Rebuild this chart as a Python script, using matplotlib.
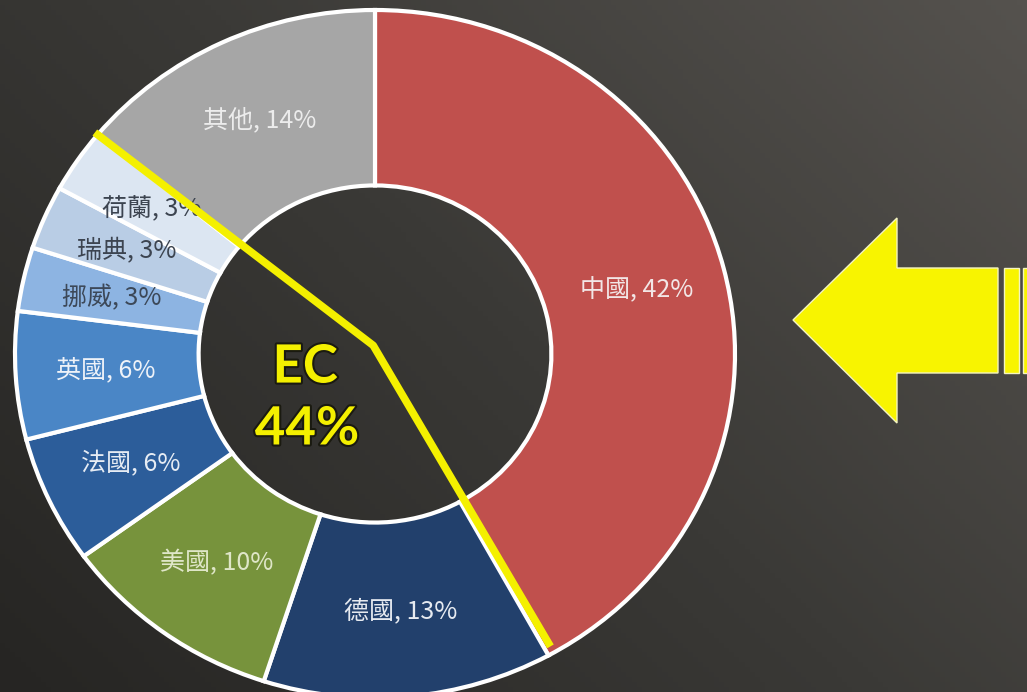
import numpy as np
import matplotlib.pyplot as plt
from matplotlib.patches import Polygon, Rectangle
from matplotlib.colors import LinearSegmentedColormap
import matplotlib.patheffects as pe

plt.rcParams['font.family'] = ['Noto Sans CJK TC', 'DejaVu Sans']

# data, clockwise from 12 o'clock
countries = ['中國', '德國', '美國', '法國', '英國', '挪威', '瑞典', '荷蘭', '其他']
shares = [42, 13, 10, 6, 6, 3, 3, 3, 14]
colors = ['#c0504d', '#22406c', '#77933c', '#2c5d9a', '#4a86c6',
          '#8db4e2', '#b9cde5', '#dce6f2', '#a6a6a6']
label_colors = ['#f2e6e6', '#e6eaf0', '#dfe6c8', '#e6ecf4', '#eef2f8',
                '#3c4858', '#3c4450', '#3c4450', '#ececec']
ec_lines = ['EC', '44%']

W, H = 1027, 692
fig = plt.figure(figsize=(W / 100, H / 100), dpi=100)

# dark background, a bit lighter to the upper right
bg = fig.add_axes([0, 0, 1, 1])
gx, gy = np.meshgrid(np.linspace(0, 1, 200), np.linspace(1, 0, 140))
bg_cmap = LinearSegmentedColormap.from_list('bg', ['#262523', '#3a3936', '#55524e'])
bg.imshow(0.6 * gx + 0.4 * gy, cmap=bg_cmap, aspect='auto', extent=[0, 1, 0, 1])
bg.axis('off')

# donut (image is a little stretched horizontally)
ax = fig.add_axes([0, 0, 1, 1])
ax.set_facecolor('none')
wedges, _ = ax.pie(shares, colors=colors, startangle=90, counterclock=False, radius=1,
                   wedgeprops=dict(width=0.51, edgecolor='white', linewidth=3))
ax.set_aspect('auto')
ax.set_xlim(-375 / 360, (W - 375) / 360)
ax.set_ylim((354 - H) / 344, 354 / 344)
ax.axis('off')

cum = np.cumsum(shares)
mids = (cum - np.array(shares) / 2) / 100 * 2 * np.pi
for name, s, a, c in zip(countries, shares, mids, label_colors):
    ax.text(0.75 * np.sin(a), 0.75 * np.cos(a), f'{name}, {s}%', color=c,
            fontsize=18, fontweight='medium', ha='center', va='center')

# yellow EC separator
a_top = cum[7] / 100 * 2 * np.pi
a_bot = cum[0] / 100 * 2 * np.pi
lx = [1.01 * np.sin(a_top), -0.005, 0.97 * np.sin(a_bot) + 0.02]
ly = [1.01 * np.cos(a_top), 0.025, 0.97 * np.cos(a_bot)]
ax.plot(lx, ly, color='#f4f000', linewidth=5.5, solid_capstyle='butt', zorder=5)

shadow = [pe.withStroke(linewidth=3, foreground='#1a1a10')]
ax.text(-0.194, -0.038, ec_lines[0], color='#f4f000', fontsize=38, fontweight='bold',
        family='Lato', ha='center', va='center', path_effects=shadow, zorder=6)
ax.text(-0.189, -0.218, ec_lines[1], color='#f4f000', fontsize=38, fontweight='bold',
        family='Lato', ha='center', va='center', path_effects=shadow, zorder=6)

# arrow on the right
ov = fig.add_axes([0, 0, 1, 1])
ov.set_xlim(0, W)
ov.set_ylim(H, 0)
ov.axis('off')
arrow = [(793, 320), (897, 218), (897, 268), (998, 268), (998, 373), (897, 373), (897, 423)]
ov.add_patch(Polygon(arrow, closed=True, facecolor='#f8f400', edgecolor='#f4f4c0', linewidth=1))
ov.add_patch(Rectangle((1004, 268), 15, 105, facecolor='#f8f400', edgecolor='#f4f4c0', linewidth=1))
ov.add_patch(Rectangle((1023, 268), 10, 105, facecolor='#f8f400', edgecolor='#f4f4c0', linewidth=1))

fig.savefig('out.png', dpi=100)
